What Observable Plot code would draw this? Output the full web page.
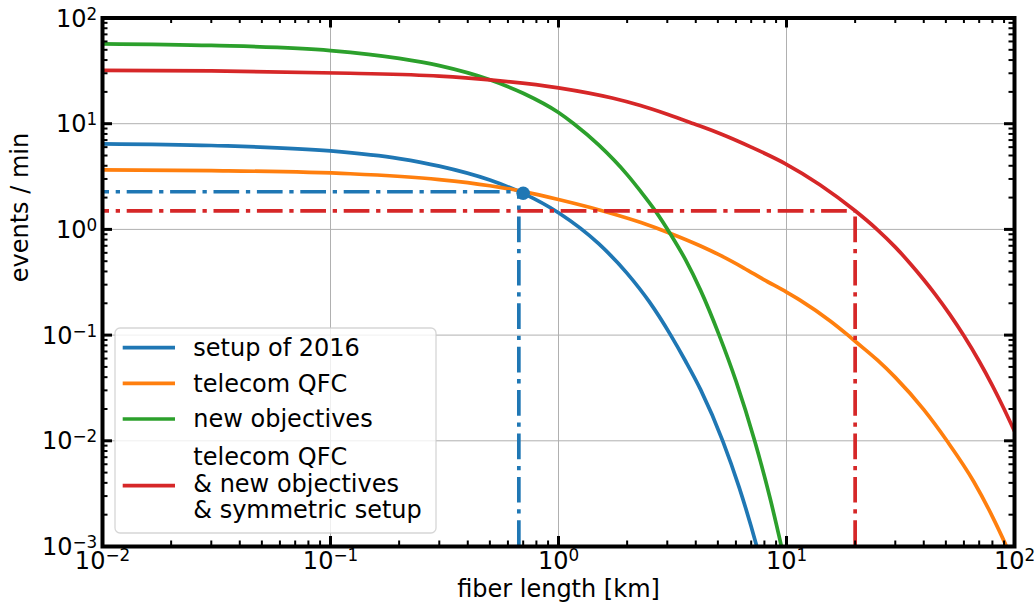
<!DOCTYPE html>
<html>
<head>
<meta charset="utf-8">
<title>events / min vs fiber length</title>
<script src="https://cdn.jsdelivr.net/npm/d3@7"></script>
<script src="https://cdn.jsdelivr.net/npm/@observablehq/plot@0.6"></script>
<style>
  html, body { margin: 0; padding: 0; background: #ffffff; }
  #chart { width: 1036px; height: 607px; }
</style>
</head>
<body>
<div id="chart"></div>
<script>
// Expected entanglement event rate (events per minute) versus fiber length (km)
const seriesNames = [
  "setup of 2016",
  "telecom QFC",
  "new objectives",
  "telecom QFC & new objectives & symmetric setup"
];

const lengthSetup2016 = [0.01, 0.03, 0.1, 0.2, 0.3, 0.5, 0.7, 1.0, 1.5, 2.0, 2.5, 3.1, 3.6, 4.2, 5.25, 6.2, 7.35, 7.5];
const eventsSetup2016 = [6.45, 6.22, 5.53, 4.68, 3.97, 2.93, 2.19, 1.436, 0.732, 0.384, 0.2072, 0.1006, 0.0572, 0.0305, 0.01, 0.00362, 0.00106, 0.0009];

const lengthTelecomQFC = [0.01, 0.03, 0.122, 0.3, 0.5, 0.7, 1.0, 1.38, 1.624, 2.3, 3.1, 4.2, 5.13, 6.5, 7.95, 10, 11.5, 15.6, 18.6, 20, 25, 30, 40, 50.7, 66.3, 80, 90.4, 95];
const eventsTelecomQFC = [3.66, 3.6, 3.36, 2.96, 2.59, 2.28, 1.92, 1.61, 1.46, 1.16, 0.915, 0.696, 0.567, 0.431, 0.335, 0.255, 0.213, 0.1353, 0.0998, 0.0875, 0.0582, 0.0398, 0.0197, 0.00989, 0.0041, 0.00192, 0.0011, 0.00086];

const lengthNewObjectives = [0.01, 0.03, 0.1, 0.2, 0.3, 0.5, 0.7, 1.0, 1.167, 1.5, 2.0, 2.289, 2.664, 3.1, 3.6, 4.2, 5.06, 6.0, 7.25, 8.5, 9.5, 9.65];
const eventsNewObjectives = [57, 55.0, 49.2, 41.5, 35.4, 26.0, 19.4, 12.75, 9.98, 6.3, 3.3, 2.3, 1.49, 0.9, 0.52, 0.265, 0.1006, 0.0369, 0.01, 0.00278, 0.001, 0.00086];

const lengthSymmetric = [0.01, 0.03, 0.122, 0.3, 0.5, 1.0, 1.72, 2.289, 3.0, 3.92, 5.13, 7.0, 9.9, 14, 20, 25, 30, 35, 40, 45, 52, 60, 70, 80, 90, 100];
const eventsSymmetric = [31.9, 31.55, 30.0, 28.2, 26.0, 21.85, 17.5, 14.87, 12.3, 9.98, 8.03, 6.0, 4.175, 2.65, 1.5, 0.996, 0.68, 0.471, 0.334, 0.2416, 0.157, 0.0984, 0.0566, 0.0333, 0.02, 0.0123];

// Operating points marked with dash-dotted guides
const guideSeries = [seriesNames[0], seriesNames[3]];
const guideLength = [0.67, 20];
const guideEvents = [2.27, 1.5];

// Marker on the 2016 setup curve
const markerLength = [0.7];
const markerEvents = [2.2];

// Axis decades
const xDecades = [0.01, 0.1, 1, 10, 100];
const yDecades = [0.001, 0.01, 0.1, 1, 10, 100];

// Styling
const seriesColors = ["#1f77b4", "#ff7f0e", "#2ca02c", "#d62728"];
const FONT = "DejaVu Sans";
const FONT_SIZE = 24;
const W = 1036, H = 607;
const M = {top: 17.5, right: 22, bottom: 61, left: 102};
const innerW = W - M.left - M.right;
const innerH = H - M.top - M.bottom;

const seriesData = [
  [lengthSetup2016, eventsSetup2016],
  [lengthTelecomQFC, eventsTelecomQFC],
  [lengthNewObjectives, eventsNewObjectives],
  [lengthSymmetric, eventsSymmetric]
];
const rows = seriesData.flatMap(([ks, es], i) =>
  ks.map((k, j) => ({series: seriesNames[i], km: k, events: es[j]})));
const guides = guideSeries.map((s, i) => ({series: s, km: guideLength[i], events: guideEvents[i]}));
const markers = markerLength.map((k, i) => ({series: seriesNames[0], km: k, events: markerEvents[i]}));

const minorOf = decades => decades.slice(0, -1).flatMap(d => [2, 3, 4, 5, 6, 7, 8, 9].map(m => m * d));
const xMinor = minorOf(xDecades);
const yMinor = minorOf(yDecades);
const expLabel = d => "10^" + Math.round(Math.log10(d));

const MAJOR = 10, MINOR = 5.5;
const dash = "25.7 6.7 4.3 6.7";

const plot = Plot.plot({
  width: W,
  height: H,
  marginTop: M.top,
  marginRight: M.right,
  marginBottom: M.bottom,
  marginLeft: M.left,
  x: {type: "log", domain: [xDecades[0], xDecades[xDecades.length - 1]]},
  y: {type: "log", domain: [yDecades[0], yDecades[yDecades.length - 1]]},
  color: {domain: seriesNames, range: seriesColors},
  style: {fontFamily: FONT, fontSize: FONT_SIZE + "px", color: "black", background: "white", overflow: "visible"},
  marks: [
    // grid
    Plot.ruleX(xDecades.slice(1, -1), {stroke: "#b0b0b0", strokeWidth: 1}),
    Plot.ruleY(yDecades.slice(1, -1), {stroke: "#b0b0b0", strokeWidth: 1}),
    // curves
    Plot.line(rows, {x: "km", y: "events", z: "series", stroke: "series", strokeWidth: 3.7, curve: "monotone-x", clip: true}),
    // dash-dotted guides to the operating points
    Plot.ruleY(guides, {y: "events", x1: () => xDecades[0], x2: "km", stroke: "series", strokeWidth: 3.7,
      strokeDasharray: dash, strokeDashoffset: 18.7}),
    Plot.ruleX(guides, {x: "km", y1: () => yDecades[0], y2: "events", stroke: "series", strokeWidth: 3.7,
      strokeDasharray: dash}),
    Plot.dot(markers, {x: "km", y: "events", fill: "series", r: 6.8, stroke: null}),
    // inward ticks on all four sides
    Plot.tickX(xDecades, {x: d => d, insetTop: innerH - MAJOR, stroke: "black", strokeWidth: 3}),
    Plot.tickX(xDecades, {x: d => d, insetBottom: innerH - MAJOR, stroke: "black", strokeWidth: 3}),
    Plot.tickX(xMinor, {x: d => d, insetTop: innerH - MINOR, stroke: "black", strokeWidth: 2}),
    Plot.tickX(xMinor, {x: d => d, insetBottom: innerH - MINOR, stroke: "black", strokeWidth: 2}),
    Plot.tickY(yDecades, {y: d => d, insetRight: innerW - MAJOR, stroke: "black", strokeWidth: 3}),
    Plot.tickY(yDecades, {y: d => d, insetLeft: innerW - MAJOR, stroke: "black", strokeWidth: 3}),
    Plot.tickY(yMinor, {y: d => d, insetRight: innerW - MINOR, stroke: "black", strokeWidth: 2}),
    Plot.tickY(yMinor, {y: d => d, insetLeft: innerW - MINOR, stroke: "black", strokeWidth: 2}),
    Plot.frame({stroke: "black", strokeWidth: 4}),
    // tick labels
    Plot.axisX({ticks: xDecades, tickSize: 0, tickPadding: 5, tickFormat: expLabel, label: null}),
    Plot.axisY({ticks: yDecades, tickSize: 0, tickPadding: 5.3, tickFormat: expLabel, label: null, dy: 1}),
    // axis titles
    Plot.text(["fiber length [km]"], {text: d => d, frameAnchor: "bottom", lineAnchor: "middle", dy: 43}),
    Plot.text(["events / min"], {text: d => d, frameAnchor: "left", lineAnchor: "middle", rotate: -90, dx: -82})
  ]
});

const svg = d3.select(plot);

// Tick labels as base with raised exponent
svg.selectAll("g[aria-label$='tick label'] text").each(function () {
  const parts = this.textContent.split("^");
  if (parts.length !== 2) return;
  const t = d3.select(this).text(null);
  t.append("tspan").text(parts[0]);
  t.append("tspan").attr("dy", "-0.42em").attr("font-size", "0.7em").text(parts[1].replace("-", "\u2212"));
});

// Legend box inside the plot area
const legend = svg.append("g")
  .attr("font-family", FONT).attr("font-size", FONT_SIZE)
  .attr("fill", "black").attr("text-anchor", "start");
legend.append("rect")
  .attr("x", 115).attr("y", 328).attr("width", 321).attr("height", 205).attr("rx", 5)
  .attr("fill", "white").attr("fill-opacity", 0.8)
  .attr("stroke", "#cccccc").attr("stroke-opacity", 0.8).attr("stroke-width", 1.3);
const legendLines = [
  ["setup of 2016"],
  ["telecom QFC"],
  ["new objectives"],
  ["telecom QFC", "& new objectives", "& symmetric setup"]
];
const handleY = [347.7, 383.3, 419, 485.7];
const firstBaseline = [356, 391.7, 426.7, 465];
legendLines.forEach((lines, i) => {
  legend.append("line")
    .attr("x1", 122.7).attr("x2", 175).attr("y1", handleY[i]).attr("y2", handleY[i])
    .attr("stroke", seriesColors[i]).attr("stroke-width", 3.7);
  const text = legend.append("text").attr("x", 193.3).attr("y", firstBaseline[i]).attr("text-anchor", "start");
  lines.forEach((s, j) => {
    text.append("tspan").attr("x", 193.3).attr("dy", j === 0 ? 0 : 26.7).text(s);
  });
});

document.getElementById("chart").appendChild(plot);
</script>
</body>
</html>
